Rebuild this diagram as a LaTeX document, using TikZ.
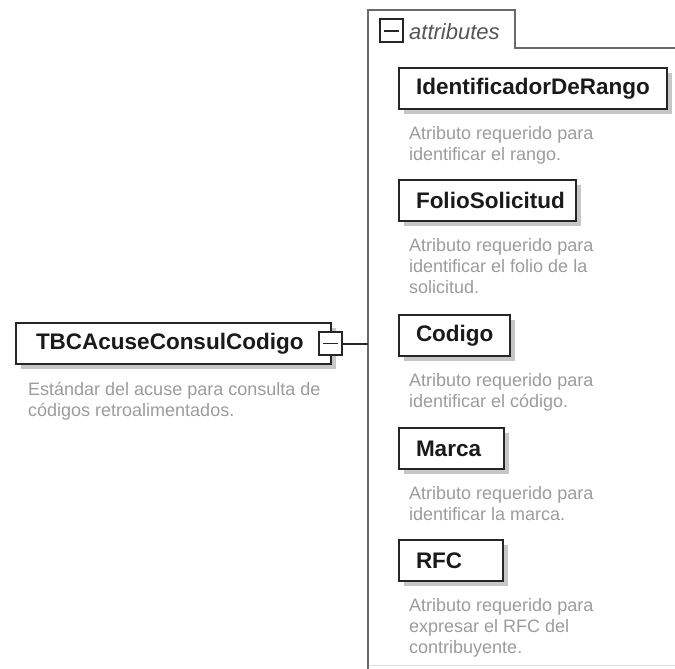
\documentclass[tikz,border=0pt]{standalone}
\usepackage{fontspec}
\setmainfont{Liberation Sans}
\usetikzlibrary{shadows}
\definecolor{namec}{HTML}{1A1A1A}
\definecolor{boxc}{HTML}{262626}
\definecolor{shadc}{HTML}{C6C6C6}
\definecolor{descc}{HTML}{9C9C9C}
\definecolor{framec}{HTML}{6A6A6A}
\definecolor{tabc}{HTML}{555555}
\definecolor{faintc}{HTML}{DDDDDD}
\begin{document}
\begin{tikzpicture}[x=1pt,y=-1pt,
  namebox/.style={draw=boxc, line width=2pt, fill=white, anchor=north west,
    minimum height=41pt, inner xsep=17pt, inner ysep=0pt, align=left,
    font=\fontsize{22.5}{27}\selectfont\bfseries, text=namec,
    general shadow={fill=shadc, shadow xshift=5pt, shadow yshift=-5pt}},
  desc/.style={anchor=north west, inner sep=0pt, align=left,
    font=\fontsize{18}{21}\selectfont, text=descc},
  minusicon/.style={draw=boxc, line width=2pt, fill=white, minimum size=23pt,
    inner sep=0pt,
    path picture={\draw[boxc, line width=1.8pt]
      ([xshift=4pt]path picture bounding box.west) --
      ([xshift=-4pt]path picture bounding box.east);}},
  frameline/.style={draw=framec, line width=2.4pt},
  conn/.style={draw=boxc, line width=2pt}]
\useasboundingbox (0,0) rectangle (675,669);
\fill[white] (0,0) rectangle (675,669);

% attributes frame
\draw[frameline] (368,669) -- (368,10) -- (515,10) -- (515,48) -- (675,48);
\draw[faintc, line width=1pt] (369,665) -- (675,665);
\node[minusicon] (tabicon) at (391,31) {};
\node[anchor=base west, inner sep=0pt, font=\fontsize{22}{26}\selectfont\itshape,
  text=tabc] (attrlbl) at (409,40) {attributes};
\coordinate (fhit) at (368,343.5);

% main element
\node[namebox, inner xsep=20pt, text width=275pt] (main) at (15,322) {TBCAcuseConsulCodigo};
\node[desc] (maind) at (28,382) {Estándar del acuse para consulta de\\códigos retroalimentados.};
\node[minusicon] (micon) at (330,343.5) {};
\draw[conn] (micon.east) -- (fhit);

% attributes
\node[namebox, text width=234pt] (ident) at (398,67) {IdentificadorDeRango};
\node[desc] (identd) at (409,126) {Atributo requerido para\\identificar el rango.};

\node[namebox, text width=143pt] (folio) at (398,179) {FolioSolicitud};
\node[desc] (foliod) at (409,238) {Atributo requerido para\\identificar el folio de la\\solicitud.};

\node[namebox, text width=77pt] (codigo) at (398,314) {Codigo};
\node[desc] (codigod) at (409,373) {Atributo requerido para\\identificar el código.};

\node[namebox, text width=71pt] (marca) at (398,427) {Marca};
\node[desc] (marcad) at (409,486) {Atributo requerido para\\identificar la marca.};

\node[namebox, text width=70pt] (rfc) at (398,539) {RFC};
\node[desc] (rfcd) at (409,598) {Atributo requerido para\\expresar el RFC del\\contribuyente.};
\end{tikzpicture}
\end{document}
